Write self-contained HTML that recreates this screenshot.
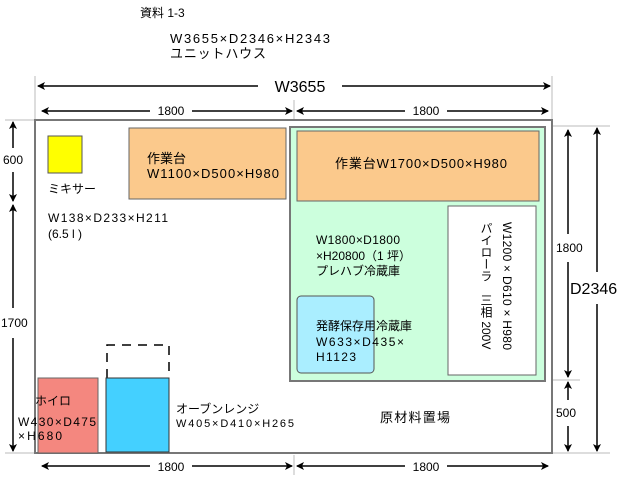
<!DOCTYPE html>
<html><head><meta charset="utf-8"><style>
body{margin:0;background:#fff;}
svg text{font-family:"Liberation Sans","Noto Sans CJK JP",sans-serif;fill:#000;}
</style></head><body>
<svg width="618" height="482" viewBox="0 0 618 482" xmlns="http://www.w3.org/2000/svg">
<defs>
<marker id="a" markerWidth="8" markerHeight="8" refX="7" refY="4" orient="auto-start-reverse" markerUnits="userSpaceOnUse">
<path d="M0,0 L8,4 L0,8 L2,4 Z" fill="#000"/></marker>
</defs>
<text x="140" y="17" font-size="12">資料 1-3</text>
<text x="170" y="43" font-size="13" textLength="160">W3655×D2346×H2343</text>
<text x="170" y="58" font-size="13" textLength="96">ユニットハウス</text>
<g stroke="#bbb" stroke-width="1">
<line x1="35" y1="76" x2="35" y2="120"/><line x1="552" y1="76" x2="552" y2="120"/>
<line x1="294" y1="100" x2="294" y2="120"/>
<line x1="294" y1="455" x2="294" y2="475"/>
<line x1="5" y1="120" x2="35" y2="120"/><line x1="5" y1="453" x2="35" y2="453"/>
<line x1="552" y1="126" x2="610" y2="126"/><line x1="552" y1="380" x2="580" y2="380"/>
<line x1="552" y1="453" x2="610" y2="453"/>
</g>
<g stroke="#000" stroke-width="1.5" fill="none">
<line x1="38" y1="86" x2="258" y2="86" marker-start="url(#a)"/>
<line x1="342" y1="86" x2="550" y2="86" marker-end="url(#a)"/>
<line x1="42" y1="111" x2="150" y2="111" marker-start="url(#a)"/>
<line x1="192" y1="111" x2="292" y2="111" marker-end="url(#a)"/>
<line x1="297" y1="111" x2="405" y2="111" marker-start="url(#a)"/>
<line x1="447" y1="111" x2="548" y2="111" marker-end="url(#a)"/>
<line x1="42" y1="466" x2="150" y2="466" marker-start="url(#a)"/>
<line x1="192" y1="466" x2="292" y2="466" marker-end="url(#a)"/>
<line x1="297" y1="466" x2="405" y2="466" marker-start="url(#a)"/>
<line x1="447" y1="466" x2="548" y2="466" marker-end="url(#a)"/>
<line x1="13" y1="122" x2="13" y2="148" marker-start="url(#a)"/>
<line x1="13" y1="172" x2="13" y2="201" marker-end="url(#a)"/>
<line x1="13" y1="205" x2="13" y2="308" marker-start="url(#a)"/>
<line x1="13" y1="338" x2="13" y2="451" marker-end="url(#a)"/>
<line x1="568" y1="130" x2="568" y2="234" marker-start="url(#a)"/>
<line x1="568" y1="262" x2="568" y2="377" marker-end="url(#a)"/>
<line x1="568" y1="382" x2="568" y2="400" marker-start="url(#a)"/>
<line x1="568" y1="426" x2="568" y2="451" marker-end="url(#a)"/>
<line x1="597" y1="128" x2="597" y2="272" marker-start="url(#a)"/>
<line x1="597" y1="304" x2="597" y2="451" marker-end="url(#a)"/>
</g>
<text x="300" y="92" font-size="16" text-anchor="middle">W3655</text>
<text x="171" y="115" font-size="12" text-anchor="middle">1800</text>
<text x="426" y="115" font-size="12" text-anchor="middle">1800</text>
<text x="171" y="471" font-size="12" text-anchor="middle">1800</text>
<text x="426" y="471" font-size="12" text-anchor="middle">1800</text>
<text x="3" y="164" font-size="12">600</text>
<text x="1" y="327" font-size="12">1700</text>
<text x="556" y="252" font-size="12">1800</text>
<text x="556" y="417" font-size="12">500</text>
<text x="570" y="294" font-size="16">D2346</text>
<rect x="35" y="120" width="517" height="333" fill="#fff" stroke="#777" stroke-width="2"/>
<rect x="48" y="136" width="34" height="37" fill="#ffff00" stroke="#555"/>
<text x="48" y="193" font-size="12">ミキサー</text>
<text x="48" y="222" font-size="12" textLength="120">W138×D233×H211</text>
<text x="48" y="238" font-size="12">(6.5 l )</text>
<rect x="129" y="128" width="157" height="71" fill="#fbc98c" stroke="#666"/>
<text x="147" y="163" font-size="13">作業台</text>
<text x="147" y="178" font-size="13" textLength="132">W1100×D500×H980</text>
<rect x="290" y="127" width="255" height="254" fill="#ccffdd" stroke="#777" stroke-width="2"/>
<rect x="297" y="131" width="242" height="70" fill="#fbc98c" stroke="#666"/>
<text x="335" y="168" font-size="13" textLength="172">作業台W1700×D500×H980</text>
<rect x="448" y="206" width="88" height="169" fill="#fff" stroke="#666"/>
<text x="507" y="222" font-size="12" style="writing-mode:vertical-rl" textLength="128">W1200×D610×H980</text>
<text x="486" y="222" font-size="12" style="writing-mode:vertical-rl">パイローラ　三相 200V</text>
<text x="316" y="244" font-size="12" textLength="84">W1800×D1800</text>
<text x="316" y="260" font-size="12">×H20800（1 坪）</text>
<text x="316" y="275" font-size="12">プレハブ冷蔵庫</text>
<rect x="297" y="296" width="77" height="77" rx="4" fill="#aaeeff" stroke="#555"/>
<text x="316" y="330" font-size="12">発酵保存用冷蔵庫</text>
<text x="316" y="346" font-size="12" textLength="88">W633×D435×</text>
<text x="316" y="361" font-size="12" textLength="40">H1123</text>
<path d="M107,378 V345 H169 V378" fill="none" stroke="#000" stroke-width="1.5" stroke-dasharray="9,7"/>
<rect x="38" y="378" width="60" height="75" fill="#f4877f" stroke="#666"/>
<rect x="106" y="378" width="63" height="74" fill="#44d0ff" stroke="#333"/>
<text x="35" y="405" font-size="12">ホイロ</text>
<text x="18" y="426" font-size="12" textLength="78">W430×D475</text>
<text x="18" y="440" font-size="12" textLength="44">×H680</text>
<text x="176" y="413" font-size="12">オーブンレンジ</text>
<text x="176" y="427" font-size="11" textLength="118">W405×D410×H265</text>
<text x="380" y="422" font-size="13" textLength="70">原材料置場</text>
</svg>
</body></html>
